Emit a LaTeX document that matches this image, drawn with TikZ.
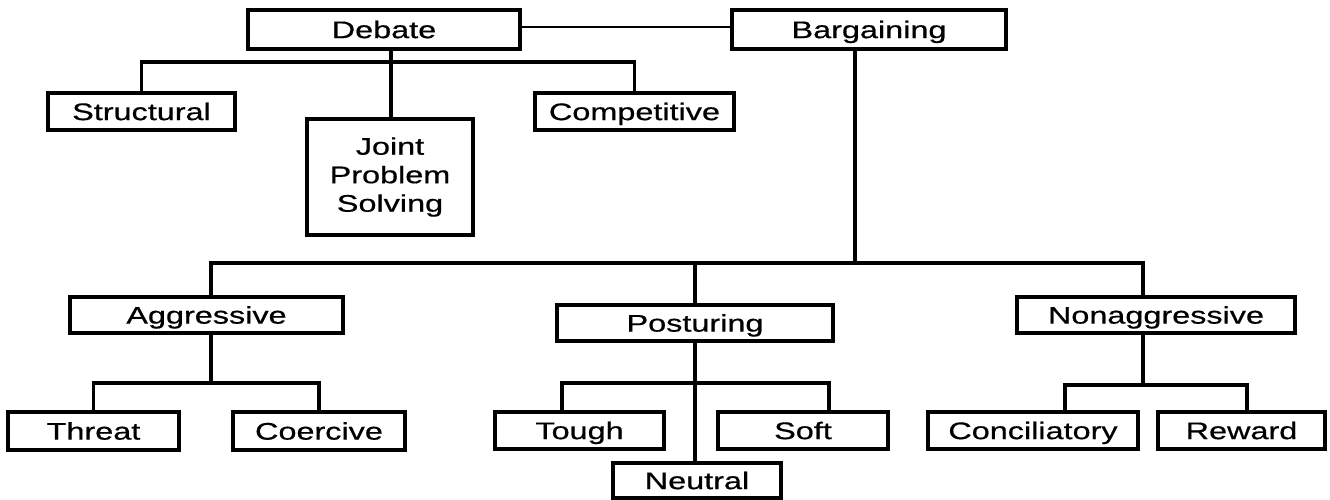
\documentclass[tikz,border=0pt]{standalone}
\usepackage{fontspec}
\usepackage{graphicx}
\newfontfamily\chartfont{Liberation Sans}[FakeBold=0.5]
% labels are set wide, as in the printed chart
\newcommand{\wide}[1]{\scalebox{1.35}[1]{#1}}
\begin{document}
\begin{tikzpicture}[x=1pt,y=-1pt,
  line width=3.2pt,
  box/.style={draw, rectangle, inner sep=0pt, align=center,
    font=\chartfont\fontsize{24}{28.5}\selectfont},
  one/.style={box, text height=17.2pt, text depth=0pt}]
\useasboundingbox (0,0) rectangle (1330,499);

% top level
\node[one, minimum width=272pt, minimum height=39pt] (debate)  at (384,29.5)  {\wide{Debate}};
\node[one, minimum width=274pt, minimum height=39pt] (barg)    at (869,29.5)  {\wide{Bargaining}};

% forms of debate
\node[one, minimum width=187pt, minimum height=37pt] (struct)  at (141.5,111.5) {\wide{Structural}};
\node[box, minimum width=166pt, minimum height=116pt] (joint)  at (390,177)   {\wide{Joint}\\\wide{Problem}\\\wide{Solving}};
\node[one, minimum width=199pt, minimum height=37pt] (compet)  at (634.5,111.5) {\wide{Competitive}};

% forms of bargaining
\node[one, minimum width=273pt, minimum height=36pt] (aggr)    at (206.5,315) {\wide{Aggressive}};
\node[one, minimum width=276pt, minimum height=36pt] (post)    at (695,323)   {\wide{Posturing}};
\node[one, minimum width=278pt, minimum height=36pt] (nonaggr) at (1156,315)  {\wide{Nonaggressive}};

% leaves
\node[one, minimum width=171pt, minimum height=38pt] (threat)  at (93.5,431)  {\wide{Threat}};
\node[one, minimum width=172pt, minimum height=38pt] (coerc)   at (319,431)   {\wide{Coercive}};
\node[one, minimum width=169pt, minimum height=37pt] (tough)   at (579.5,430.5) {\wide{Tough}};
\node[one, minimum width=170pt, minimum height=37pt] (soft)    at (803,430.5) {\wide{Soft}};
\node[one, minimum width=168pt, minimum height=35pt] (neutral) at (697,480.5) {\wide{Neutral}};
\node[one, minimum width=210pt, minimum height=37pt] (concil)  at (1033,430.5) {\wide{Conciliatory}};
\node[one, minimum width=167pt, minimum height=37pt] (reward)  at (1241.5,430.5) {\wide{Reward}};

% junction points of the bus lines
\coordinate (dbus) at (391,62);
\coordinate (bbus) at (855,263);
\coordinate (abus) at (211,383);
\coordinate (pbus) at (695,383);
\coordinate (nbus) at (1143,385);

% debate branch
\draw[line width=2.6pt] ([yshift=2.5pt]debate.east) -- ([yshift=2.5pt]barg.west |- debate.east);
\draw (debate.south -| dbus) -- (joint.north -| dbus);
\draw (struct.north) |- (dbus) -| (compet.north);

% bargaining branch
\draw (barg.south -| bbus) -- (bbus);
\draw ([xshift=4.5pt]aggr.north) |- (bbus) -| ([xshift=-13pt]nonaggr.north);
\draw (post.north) -- (post.north |- bbus);

% aggressive
\draw ([xshift=4.5pt]aggr.south) -- (abus);
\draw (threat.north) |- (abus) -| (coerc.north);

% posturing
\draw (post.south) -- (post.south |- neutral.north);
\draw ([xshift=-17.5pt]tough.north) |- (pbus) -| ([xshift=26pt]soft.north);

% nonaggressive
\draw ([xshift=-13pt]nonaggr.south) -- (nbus);
\draw ([xshift=32pt]concil.north) |- (nbus) -| ([xshift=5.5pt]reward.north);
\end{tikzpicture}
\end{document}
